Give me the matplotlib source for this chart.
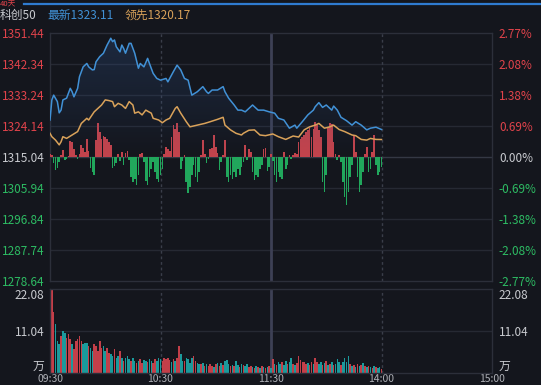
import numpy as np
import matplotlib
matplotlib.use("Agg")
import matplotlib.pyplot as plt
from matplotlib.patches import Polygon

plt.rcParams['font.family'] = ['Noto Sans CJK SC', 'DejaVu Sans']

# ---------------- data ----------------
title_name = "科创50"
latest_label = "最新1323.11"
lead_label = "领先1320.17"
top_tag = "40天"
prev_close = 1315.04
price_ticks = [1351.44, 1342.34, 1333.24, 1324.14, 1315.04, 1305.94, 1296.84, 1287.74, 1278.64]
pct_ticks = ["2.77%", "2.08%", "1.38%", "0.69%", "0.00%", "-0.69%", "-1.38%", "-2.08%", "-2.77%"]
vol_ticks = [0, 11.04, 22.08]
vol_tick_labels = ["万", "11.04", "22.08"]
time_ticks = [0, 60, 120, 180, 240]
time_labels = ["09:30", "10:30", "11:30", "14:00", "15:00"]

price_min = [0, 1, 2, 4, 5, 6, 7, 9, 11, 12, 13, 15, 16, 18, 20, 21, 23, 24, 25, 27, 29, 31, 33, 34, 35,
             36, 38, 39, 40, 41, 43, 44, 46, 48, 49, 51, 53, 54, 56, 58, 60, 63, 64, 67, 69, 71, 73, 75,
             77, 80, 83, 85, 86, 88, 91, 94, 95, 97, 100, 102, 104, 106, 110, 113, 116, 119, 122, 124,
             127, 130, 133, 134, 137, 140, 143, 144, 146, 148, 150, 153, 154, 156, 158, 161, 164, 166,
             169, 172, 174, 177, 180]
price = [1325.9, 1331.8, 1333.2, 1331.3, 1328.0, 1328.8, 1331.8, 1332.3, 1335.2, 1334.2, 1332.7, 1335.2,
         1338.6, 1341.5, 1342.5, 1341.5, 1340.6, 1340.7, 1343.0, 1344.5, 1345.5, 1347.9, 1349.9, 1348.9,
         1349.4, 1347.4, 1345.9, 1347.9, 1346.9, 1345.5, 1348.4, 1348.4, 1345.5, 1341.1, 1342.5, 1341.5,
         1344.0, 1342.5, 1339.6, 1338.1, 1337.6, 1338.1, 1337.1, 1340.1, 1342.0, 1340.6, 1338.1, 1337.6,
         1333.2, 1334.2, 1335.7, 1334.2, 1333.7, 1334.7, 1334.7, 1335.7, 1334.2, 1332.3, 1330.3, 1328.8,
         1328.8, 1328.3, 1330.3, 1328.8, 1328.8, 1328.3, 1327.9, 1326.4, 1325.9, 1323.5, 1324.4, 1323.5,
         1325.4, 1327.4, 1328.8, 1329.8, 1331.0, 1329.6, 1330.3, 1328.8, 1330.0, 1328.8, 1326.7, 1325.7,
         1324.4, 1325.4, 1324.4, 1323.0, 1323.5, 1323.8, 1323.11]

lead_min = [0, 1, 3, 5, 6, 7, 9, 12, 15, 17, 20, 21, 24, 25, 28, 30, 32, 34, 35, 37, 39, 41, 43, 45, 46,
            48, 50, 52, 55, 56, 59, 61, 63, 65, 68, 69, 71, 74, 76, 80, 84, 87, 91, 94, 95, 98, 101, 104,
            105, 108, 111, 114, 117, 121, 124, 128, 132, 135, 138, 141, 144, 146, 149, 152, 154, 157, 160,
            164, 166, 169, 172, 174, 177, 180]
lead = [1322.0, 1321.0, 1320.0, 1318.6, 1319.5, 1321.0, 1320.5, 1321.5, 1322.5, 1324.9, 1326.4, 1325.9,
        1328.3, 1328.8, 1330.3, 1331.8, 1331.6, 1331.3, 1329.8, 1330.8, 1330.3, 1329.3, 1331.3, 1330.3,
        1327.9, 1328.3, 1327.4, 1328.8, 1327.9, 1326.4, 1325.9, 1325.1, 1325.9, 1326.4, 1329.3, 1329.8,
        1327.9, 1325.4, 1323.9, 1324.4, 1324.9, 1325.4, 1326.1, 1326.7, 1324.4, 1323.0, 1322.0, 1321.5,
        1322.0, 1322.9, 1323.0, 1321.5, 1321.3, 1321.8, 1321.0, 1320.2, 1321.2, 1320.9, 1323.0, 1323.9,
        1324.4, 1324.9, 1323.5, 1323.9, 1324.4, 1323.1, 1322.5, 1321.5, 1321.3, 1320.2, 1320.0, 1320.5,
        1320.2, 1320.17]

# red/green momentum bars, one per minute (arbitrary units)
momentum = [3, 2, -6, -13, -11, -5, 2, 7, -3, -2,
            1, 16, 15, 8, 2, -2, 3, 12, 9, 5,
            18, 6, -11, -15, -18, 17, 34, 25, 18, 21,
            20, 18, 15, 12, -11, -9, -6, 3, -4, 5,
            -8, 4, 6, -3, -20, -25, -22, -28, -18, 3,
            4, -5, -24, -28, -20, -12, -5, -15, -22, -25,
            -18, -12, 3, 10, 8, 6, 20, 32, 28, 34,
            25, -12, -4, 2, -25, -36, -30, -18, -8, -20,
            -25, -15, 2, 17, 3, -6, -2, 8, 9, 22,
            10, 4, -13, -5, 2, 17, -20, -25, -18, -22,
            -15, -20, -12, -18, -10, -5, 12, -3, 8, 5,
            -15, -23, -18, -20, -12, -8, 8, 9, -14, -10,
            3, -4, -18, -25, -15, -20, -22, 5, -12, -8,
            2, -2, 2, 4, 3, 15, 18, 20, 22, 25,
            27, 29, 20, 28, 35, 32, 27, 20, -25, -35,
            -18, 30, 34, 33, 15, 3, -3, 2, -5, -25,
            -40, -48, -35, -20, -8, 22, 5, -20, -35, -28,
            -15, 3, 10, -15, -12, 5, 22, -8, -18, -15,
            -10]

# volume (万), one per minute
volume = [4.5, 22.1, 16.0, 12.8, 8.4, 7.6, 9.7, 11.0, 10.6, 9.3,
          10.2, 8.9, 7.6, 6.3, 8.4, 8.9, 9.7, 8.4, 7.6, 8.0,
          7.9, 7.1, 6.7, 5.8, 7.6, 7.1, 5.8, 8.4, 6.7, 7.1,
          5.8, 6.7, 5.3, 4.9, 4.5, 6.3, 4.0, 4.5, 5.8, 4.0,
          3.2, 4.0, 4.5, 3.6, 3.2, 4.0, 3.2, 2.7, 3.2, 3.6,
          2.7, 3.4, 3.2, 2.9, 3.8, 3.2, 2.7, 3.6, 3.2, 4.0,
          3.6, 3.2, 4.0, 3.6, 4.0, 3.4, 3.0, 3.6, 3.2, 4.0,
          7.1, 4.9, 3.2, 3.2, 4.0, 3.6, 2.7, 4.0, 4.5, 3.2,
          2.7, 2.3, 2.3, 2.7, 1.8, 2.3, 1.8, 2.3, 1.8, 1.7,
          2.3, 2.7, 1.8, 2.5, 2.0, 3.2, 3.4, 2.3, 1.8, 2.0,
          1.8, 3.2, 2.0, 1.5, 2.3, 2.0, 1.8, 2.3, 1.5, 1.8,
          1.5, 1.2, 1.8, 1.5, 1.2, 1.8, 1.5, 1.2, 1.5, 1.8,
          1.2, 3.8, 2.3, 2.0, 3.0, 2.3, 2.8, 2.0, 3.2, 2.3,
          3.0, 3.9, 2.3, 2.0, 2.5, 4.6, 3.5, 2.8, 3.0, 2.3,
          2.5, 2.0, 3.0, 2.3, 4.0, 3.0, 2.3, 3.0, 2.0, 2.5,
          3.2, 2.0, 2.3, 3.0, 2.0, 2.3, 3.8, 3.0, 2.0, 2.8,
          4.0, 3.0, 4.6, 2.3, 1.8, 2.0, 1.5, 2.3, 1.8, 2.0,
          2.5, 1.8, 1.5, 1.8, 1.5, 1.2, 1.8, 1.5, 1.2, 1.5,
          1.0]
volume_dir = ("wrrtttrttr" "rrtrrrrrtt" "trttrrrrrt" "trrttrttrt" "rtttrttrtr"
              "rttrttrrtt" "trrrrrtrtr" "rttrttttrr" "ttrtrtrrrt" "rtrtrtttrt"
              "rttrtrttrr" "trtrtrtrtr" "trtrttrttr" "ttrtrrrrrr" "trrtrrttrt"
              "rtrtrtttrt" "tttrtrtrtr" "trtrtrtrttr")

# ---------------- style ----------------
BG = "#14161d"
GRID = "#262933"
FRAME = "#2c2f3a"
RED_T = "#e0434b"
GRN_T = "#2dbb63"
GRY_T = "#c9cbd0"
BLUE = "#4191d6"
ORANGE = "#d9a25a"

W, H = 541, 385
fig = plt.figure(figsize=(W / 100, H / 100), dpi=100, facecolor=BG)

def fx(px):
    return px / W

def fy(py):
    return 1 - py / H

# header
fig.add_artist(plt.Line2D([fx(24), 1], [fy(4), fy(4)], color="#2f7bd0", lw=1.6))
fig.text(fx(0), fy(0.5), top_tag, color=RED_T, fontsize=5.5, ha="left", va="top")
fig.text(fx(0), fy(15), title_name, color=GRY_T, fontsize=8.5, ha="left", va="center")
fig.text(fx(47), fy(15), latest_label, color=BLUE, fontsize=8.5, ha="left", va="center")
fig.text(fx(125), fy(15), lead_label, color=ORANGE, fontsize=8.5, ha="left", va="center")

L, R = 50, 492
ax = fig.add_axes([fx(L), fy(281), fx(R - L), (281 - 33) / H])
axv = fig.add_axes([fx(L), fy(373), fx(R - L), (373 - 289) / H])

for a in (ax, axv):
    a.set_facecolor(BG)
    a.set_xlim(0, 240)
    for s in a.spines.values():
        s.set_color(FRAME)
        s.set_linewidth(1.0)
    a.tick_params(length=0)

# ---- price panel ----
ax.set_ylim(price_ticks[-1], price_ticks[0])
for v in price_ticks[1:-1]:
    ax.axhline(v, color=GRID if v != prev_close else "#343844", lw=1.0, zorder=1)
ax.axvline(60, color="#3a3e4a", lw=1.0, ls=(0, (2, 2)), zorder=1)
ax.axvline(180, color="#3a3e4a", lw=1.0, ls=(0, (2, 2)), zorder=1)
ax.axvline(120, color="#3d4055", lw=2.0, zorder=1)

ax.set_yticks(price_ticks)
ax.set_yticklabels([f"{v:.2f}" for v in price_ticks], fontsize=8.5)
for lab, v in zip(ax.get_yticklabels(), price_ticks):
    lab.set_color(RED_T if v > prev_close else (GRN_T if v < prev_close else GRY_T))
ax.tick_params(axis="y", pad=4)
ax.set_xticks([])

axr = ax.twinx()
axr.set_ylim(ax.get_ylim())
axr.set_yticks(price_ticks)
axr.set_yticklabels(pct_ticks, fontsize=8.5)
for lab, v in zip(axr.get_yticklabels(), price_ticks):
    lab.set_color(RED_T if v > prev_close else (GRN_T if v < prev_close else GRY_T))
axr.tick_params(length=0, pad=5)
for s in axr.spines.values():
    s.set_visible(False)

# momentum bars on own scale
axm = ax.twinx()
axm.set_ylim(-124, 124)
axm.set_xlim(0, 240)
axm.axis("off")
mins = np.arange(len(momentum))
mom = np.array(momentum, dtype=float)
axm.bar(mins, mom, width=0.88, color=np.where(mom > 0, "#c2434c", "#21a75c"),
        linewidth=0, zorder=2)

# price lines
axl = ax.twinx()
axl.set_ylim(ax.get_ylim())
axl.set_xlim(0, 240)
axl.axis("off")
pm = np.array(price_min)
pv = np.array(price)
poly_x = np.concatenate([pm, [pm[-1], pm[0]]])
poly_y = np.concatenate([pv, [prev_close, prev_close]])
clip = Polygon(np.column_stack([poly_x, poly_y]), closed=True, facecolor="none", edgecolor="none")
axl.add_patch(clip)
grad = np.linspace(1, 0, 256).reshape(-1, 1)
rgba = np.zeros((256, 1, 4))
rgba[..., 0] = 0.20
rgba[..., 1] = 0.36
rgba[..., 2] = 0.60
rgba[..., 3] = 0.28 * grad
im = axl.imshow(rgba, extent=[0, 240, prev_close, max(price)], aspect="auto",
                origin="upper", zorder=2)
im.set_clip_path(clip)
axl.set_ylim(price_ticks[-1], price_ticks[0])
axl.set_xlim(0, 240)
axl.plot(pm, pv, color=BLUE, lw=1.1, zorder=4)
axl.plot(lead_min, lead, color=ORANGE, lw=1.1, zorder=4)

# ---- volume panel ----
axv.set_ylim(0, 22.08)
axv.axhline(11.04, color=GRID, lw=1.0, zorder=1)
axv.axvline(60, color="#3a3e4a", lw=1.0, ls=(0, (2, 2)), zorder=1)
axv.axvline(180, color="#3a3e4a", lw=1.0, ls=(0, (2, 2)), zorder=1)
axv.axvline(120, color="#3d4055", lw=2.0, zorder=1)
cmap = {"r": "#c33f49", "t": "#1b9a9c", "w": "#d9c8c8"}
vcols = [cmap[c] for c in volume_dir]
axv.bar(np.arange(len(volume)), volume, width=0.85, color=vcols, linewidth=0, zorder=2)

axv.set_yticks(vol_ticks)
axv.set_yticklabels(vol_tick_labels, fontsize=8.5, color=GRY_T)
axv.tick_params(axis="y", pad=4)
vlabs = axv.get_yticklabels()
vlabs[0].set_va("bottom")
vlabs[2].set_va("top")
axvr = axv.twinx()
axvr.set_ylim(0, 22.08)
axvr.set_yticks(vol_ticks)
axvr.set_yticklabels(vol_tick_labels, fontsize=8.5, color=GRY_T)
axvr.tick_params(length=0, pad=5)
rl = axvr.get_yticklabels()
rl[0].set_va("bottom")
rl[2].set_va("top")
for s in axvr.spines.values():
    s.set_visible(False)

axv.set_xticks(time_ticks)
axv.set_xticklabels(time_labels, fontsize=7.5, color="#b0b2b8")
axv.tick_params(axis="x", pad=0.5)

fig.savefig("out.png", dpi=100, facecolor=BG)
